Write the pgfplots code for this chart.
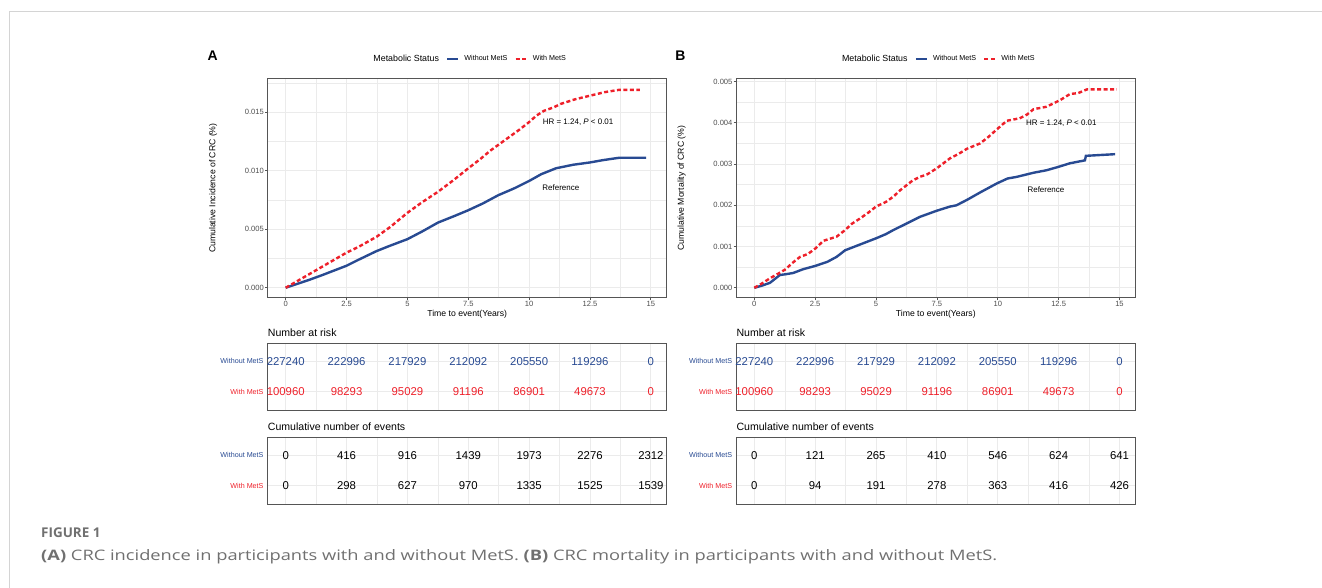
\documentclass[border=0pt]{standalone}
\usepackage{pgfplots}
\pgfplotsset{compat=1.18}
\usepackage{fontspec}
\setmainfont{Liberation Sans}
\newfontfamily\capfont{Open Sans}
\definecolor{cblue}{RGB}{40,74,146}
\definecolor{cred}{RGB}{238,32,42}
\definecolor{gridc}{RGB}{235,235,235}
\definecolor{framec}{RGB}{85,85,85}
\definecolor{tickc}{RGB}{77,77,77}
\definecolor{capc}{RGB}{112,112,112}
\definecolor{borderc}{RGB}{212,212,212}

\pgfplotsset{
 base/.style={
  scale only axis, width=399bp,
  xmin=-0.74, xmax=15.65,
  xtick={0,2.5,5,7.5,10,12.5,15},
  minor xtick={1.25,3.75,6.25,8.75,11.25,13.75},
  grid=both,
  major grid style={gridc, line width=0.9bp},
  minor grid style={gridc, line width=0.5bp},
  axis line style={framec, line width=1bp},
  /pgf/number format/assume math mode=true,
  clip=false,
 },
 km/.style={base, height=219bp,
  tick pos=left, tick align=outside,
  major tick length=2.7bp, minor tick length=0bp,
  tick style={framec, line width=0.8bp},
  ticklabel style={font=\fontsize{7.6}{9}\selectfont, text=tickc},
  xticklabel style={inner sep=1bp},
  yticklabel style={inner sep=1bp},
  scaled y ticks=false,
  y tick label style={/pgf/number format/.cd, fixed, fixed zerofill, precision=3, /tikz/.cd},
  xlabel={Time to event(Years)},
  label style={font=\fontsize{8.7}{10}\selectfont},
  xlabel style={at={(axis description cs:0.5,-0.0744)}, anchor=center},
  ylabel style={at={(axis description cs:-0.137,0.5)}, anchor=center},
  legend columns=-1,
  legend style={at={(axis description cs:0.5,1.0913)}, anchor=center, draw=none, fill=none,
     font=\fontsize{7.2}{8}\selectfont, nodes={inner sep=0bp}, column sep=0bp,
     /tikz/every odd column/.append style={column sep=5bp},
     /tikz/every even column/.append style={column sep=7bp}},
  legend image code/.code={\draw[##1] (0bp,0bp) -- (11bp,0bp);},
 },
 bl/.style={cblue, line width=2.4bp},
 rd/.style={cred, line width=2.4bp, dash pattern=on 4bp off 2.5bp},
 tbl/.style={base, height=67bp, ymin=0.4, ymax=2.6, ytick={1,2},
  yticklabels={\textcolor{cred}{With MetS},\textcolor{cblue}{Without MetS}},
  xticklabel=\empty, major tick length=0bp, minor tick length=0bp,
  yticklabel style={font=\fontsize{7.2}{8}\selectfont, inner sep=0bp, xshift=-4bp},
  title style={at={(axis description cs:0,1)}, anchor=base west, yshift=0.7bp, inner sep=0bp, font=\fontsize{10.6}{12}\selectfont},
 },
 num/.style={only marks, mark=*, mark size=0bp, mark options={draw=none,fill=none},
  nodes near coords, point meta=explicit symbolic,
  every node near coord/.append style={anchor=center, inner sep=0bp, font=\fontsize{11.4}{13}\selectfont, text=#1}},
}

\pgfplotstableread{
x y
0 0
0.5 0.0006
1.0 0.0012
1.5 0.0018
2.0 0.0024
2.5 0.0030
3.0 0.0035
3.73 0.00435
4.3 0.0052
5.0 0.0064
5.6 0.0073
6.26 0.0082
6.9 0.0092
7.5 0.0102
8.0 0.0110
8.4 0.0117
8.8 0.0123
9.2 0.0129
9.6 0.0135
10.0 0.01415
10.3 0.0147
10.6 0.0151
11.0 0.0154
11.3 0.0157
11.9 0.0161
12.5 0.0164
13.1 0.0167
13.7 0.0169
14.55 0.0169
}\ARed
\pgfplotstableread{
x y
0 0
0.5 0.00035
1.0 0.0007
1.5 0.00108
2.0 0.00148
2.5 0.00188
3.0 0.0024
3.73 0.00313
4.3 0.0036
5.0 0.00415
5.6 0.0048
6.26 0.00557
6.9 0.0061
7.5 0.00662
8.1 0.0072
8.73 0.0079
9.4 0.0085
10.0 0.00912
10.5 0.0097
11.1 0.0102
11.8 0.0105
12.5 0.0107
13.04 0.0109
13.7 0.0111
14.8 0.0111
}\ABlue
\pgfplotstableread{
x y
0 0
0.3 0.0001
0.64 0.00023
1.0 0.00035
1.26 0.00044
1.6 0.00062
1.88 0.00075
2.2 0.00082
2.5 0.00095
2.84 0.00114
3.38 0.00124
3.73 0.0014
4.0 0.00155
4.34 0.00168
4.7 0.00183
5.0 0.00197
5.4 0.00208
5.71 0.00221
6.0 0.00237
6.26 0.00249
6.5 0.0026
6.8 0.00269
7.1 0.00275
7.5 0.0029
8.04 0.00314
8.4 0.00325
8.73 0.00337
9.27 0.0035
9.6 0.00365
9.96 0.00384
10.37 0.00405
10.9 0.00411
11.2 0.0042
11.47 0.00433
12.0 0.00439
12.56 0.00455
12.97 0.0047
13.3 0.00472
13.66 0.00481
14.89 0.00481
}\BRed
\pgfplotstableread{
x y
0 0
0.3 0.00005
0.64 0.00012
1.05 0.00031
1.3 0.00033
1.6 0.00036
2.0 0.00045
2.5 0.00053
3.0 0.00063
3.38 0.00075
3.73 0.00091
4.3 0.00104
5.0 0.0012
5.4 0.0013
5.71 0.0014
6.26 0.00156
6.8 0.00172
7.5 0.00187
8.04 0.00197
8.3 0.002
8.73 0.00213
9.3 0.00232
9.96 0.00253
10.4 0.00265
10.78 0.00269
11.47 0.00279
12.0 0.00285
12.42 0.00292
12.97 0.00302
13.58 0.00309
13.62 0.0032
14.82 0.00324
}\BBlue

\begin{document}
\begin{tikzpicture}
\useasboundingbox (0,0) rectangle (1322bp,-588bp);
\draw[borderc, line width=1bp] (9bp,-588bp) -- (9bp,-11bp) -- (1322bp,-11bp);

% ---------- Panel A ----------
\node[font=\fontsize{14}{16}\selectfont\bfseries] at (212.7bp,-55.7bp) {A};
\begin{axis}[km, at={(267.7bp,-297.7bp)}, anchor=south west,
  ymin=-0.00085, ymax=0.01785,
  ytick={0,0.005,0.01,0.015},
  minor ytick={0.0025,0.0075,0.0125,0.0175},
  ylabel={Cumulative Incidence of CRC (\%)}]
\addlegendimage{empty legend}
\addlegendentry{\fontsize{8.9}{10}\selectfont Metabolic Status}
\addplot[bl] table {\ABlue};
\addlegendentry{Without MetS}
\addplot[rd] table {\ARed};
\addlegendentry{With MetS}
\node[anchor=west, font=\fontsize{8}{9}\selectfont] at (axis cs:10.42,0.01411) {HR = 1.24, \textit{P} < 0.01};
\node[anchor=west, font=\fontsize{8}{9}\selectfont] at (axis cs:10.40,0.00858) {Reference};
\end{axis}

\begin{axis}[tbl, at={(267.7bp,-410bp)}, anchor=south west, title={Number at risk}]
\addplot[num=cblue] table[meta=m] {
x y m
0 2 227240
2.5 2 222996
5 2 217929
7.5 2 212092
10 2 205550
12.5 2 119296
15 2 0
};
\addplot[num=cred] table[meta=m] {
x y m
0 1 100960
2.5 1 98293
5 1 95029
7.5 1 91196
10 1 86901
12.5 1 49673
15 1 0
};
\end{axis}

\begin{axis}[tbl, at={(267.7bp,-504bp)}, anchor=south west, title={Cumulative number of events}]
\addplot[num=black] table[meta=m] {
x y m
0 2 0
2.5 2 416
5 2 916
7.5 2 1439
10 2 1973
12.5 2 2276
15 2 2312
};
\addplot[num=black] table[meta=m] {
x y m
0 1 0
2.5 1 298
5 1 627
7.5 1 970
10 1 1335
12.5 1 1525
15 1 1539
};
\end{axis}

% ---------- Panel B ----------
\node[font=\fontsize{14}{16}\selectfont\bfseries] at (680.5bp,-55.5bp) {B};
\begin{axis}[km, at={(736.3bp,-297.7bp)}, anchor=south west,
  ymin=-0.00024, ymax=0.00507,
  ytick={0,0.001,0.002,0.003,0.004,0.005},
  minor ytick={0.0005,0.0015,0.0025,0.0035,0.0045},
  ylabel={Cumulative Mortality of CRC (\%)}]
\addlegendimage{empty legend}
\addlegendentry{\fontsize{8.9}{10}\selectfont Metabolic Status}
\addplot[bl] table {\BBlue};
\addlegendentry{Without MetS}
\addplot[rd] table {\BRed};
\addlegendentry{With MetS}
\node[anchor=west, font=\fontsize{8}{9}\selectfont] at (axis cs:11.02,0.0040) {HR = 1.24, \textit{P} < 0.01};
\node[anchor=west, font=\fontsize{8}{9}\selectfont] at (axis cs:11.08,0.00237) {Reference};
\end{axis}

\begin{axis}[tbl, at={(736.3bp,-410bp)}, anchor=south west, title={Number at risk}]
\addplot[num=cblue] table[meta=m] {
x y m
0 2 227240
2.5 2 222996
5 2 217929
7.5 2 212092
10 2 205550
12.5 2 119296
15 2 0
};
\addplot[num=cred] table[meta=m] {
x y m
0 1 100960
2.5 1 98293
5 1 95029
7.5 1 91196
10 1 86901
12.5 1 49673
15 1 0
};
\end{axis}

\begin{axis}[tbl, at={(736.3bp,-504bp)}, anchor=south west, title={Cumulative number of events}]
\addplot[num=black] table[meta=m] {
x y m
0 2 0
2.5 2 121
5 2 265
7.5 2 410
10 2 546
12.5 2 624
15 2 641
};
\addplot[num=black] table[meta=m] {
x y m
0 1 0
2.5 1 94
5 1 191
7.5 1 278
10 1 363
12.5 1 416
15 1 426
};
\end{axis}

% ---------- Caption ----------
\node[anchor=base west, inner sep=0bp, text=capc, font=\capfont\fontsize{13.5}{16}\selectfont\bfseries] at (41bp,-537.7bp) {FIGURE 1};
\node[anchor=base west, inner sep=0bp, text=capc, font=\capfont\fontsize{14.5}{17}\selectfont] at (41bp,-560bp) {\scalebox{1.266}[1]{\textbf{(A)} CRC incidence in participants with and without MetS. \textbf{(B)} CRC mortality in participants with and without MetS.}};
\end{tikzpicture}
\end{document}
